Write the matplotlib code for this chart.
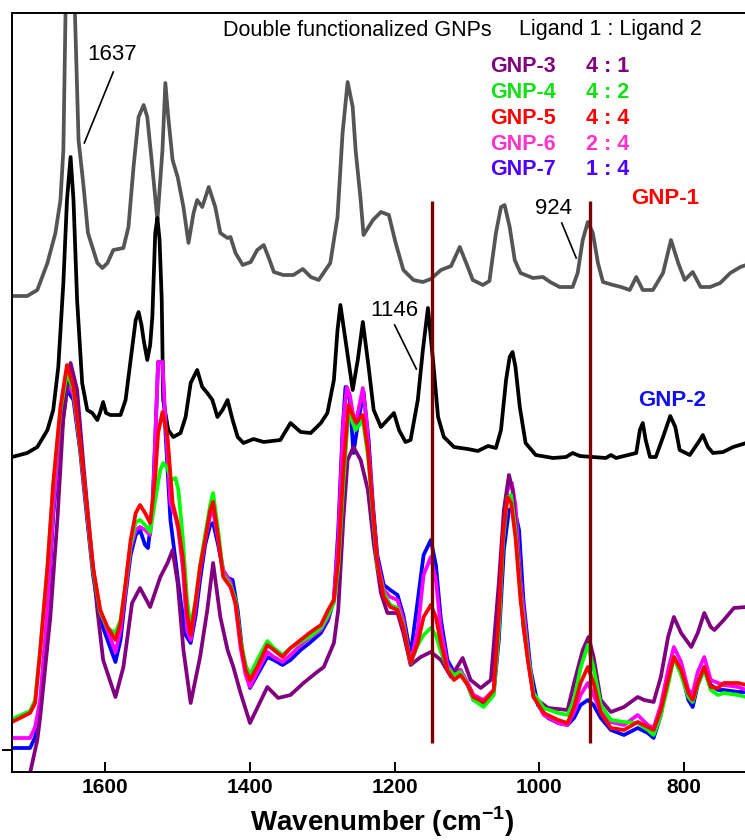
"""
plot.py
FTIR spectra of the GNP series (GNP-1 ... GNP-7), offset stack.
"""
import matplotlib
matplotlib.use("Agg")
import matplotlib.pyplot as plt

plt.rcParams["font.family"] = ["Liberation Sans", "DejaVu Sans"]
plt.rcParams["mathtext.fontset"] = "custom"
plt.rcParams["mathtext.rm"] = "Liberation Sans"
plt.rcParams["mathtext.bf"] = "Liberation Sans:bold"

# ---- data (wavenumber in cm-1, intensity in arbitrary offset units) ----
gnp1_wn = [1729, 1708, 1694, 1680, 1669, 1662, 1658, 1655, 1648, 1642, 1637, 1630, 1624,
           1611, 1604, 1597, 1589, 1575, 1568, 1561, 1554, 1547, 1542, 1535, 1528, 1521,
           1517, 1513, 1507, 1500, 1492, 1485, 1478, 1473, 1466, 1457, 1448, 1441, 1431,
           1427, 1420, 1410, 1399, 1390, 1381, 1374, 1367, 1354, 1340, 1327, 1316, 1305,
           1289, 1279, 1272, 1265, 1258, 1254, 1247, 1243, 1230, 1219, 1208, 1199, 1188,
           1174, 1161, 1150, 1136, 1122, 1110, 1100, 1092, 1078, 1069, 1060, 1053, 1048,
           1041, 1034, 1026, 1009, 995, 985, 972, 954, 947, 940, 933, 926, 919, 912, 898,
           887, 875, 866, 857, 843, 829, 818, 808, 799, 788, 777, 764, 750, 736, 722, 714]
gnp1_int = [476, 476, 482, 509, 539, 572, 622, 759, 812, 759, 632, 585, 539,
            509, 504, 509, 522, 524, 545, 605, 655, 667, 655, 605, 552, 622,
            689, 655, 612, 595, 565, 529, 559, 572, 565, 585, 565, 539, 534,
            535, 519, 507, 510, 522, 527, 514, 500, 497, 497, 503, 495, 492,
            509, 555, 639, 690, 665, 622, 572, 537, 552, 560, 557, 530, 502,
            492, 490, 493, 502, 506, 525, 507, 492, 487, 491, 539, 565, 567,
            545, 512, 499, 494, 495, 490, 485, 485, 499, 532, 550, 539, 509, 490, 487,
            485, 482, 495, 482, 482, 499, 532, 509, 492, 500, 485, 485, 489, 499, 505, 507]

gnp2_wn = [1729, 1708, 1694, 1680, 1672, 1665, 1658, 1653, 1648, 1644, 1639, 1632, 1625,
           1618, 1611, 1607, 1603, 1599, 1593, 1579, 1572, 1565, 1558, 1554, 1550, 1547,
           1542, 1538, 1535, 1531, 1528, 1525, 1522, 1520, 1513, 1506, 1496, 1489, 1482,
           1473, 1466, 1459, 1452, 1445, 1438, 1431, 1424, 1417, 1409, 1395, 1381, 1358,
           1344, 1330, 1316, 1302, 1293, 1284, 1279, 1275, 1268, 1258, 1251, 1244, 1236,
           1229, 1219, 1210, 1201, 1194, 1185, 1178, 1168, 1161, 1154, 1147, 1140, 1132,
           1118, 1099, 1085, 1071, 1060, 1053, 1046, 1041, 1037, 1033, 1027, 1019, 1005,
           981, 963, 954, 944, 926, 908, 901, 894, 866, 861, 857, 853, 847, 839, 829, 819,
           812, 806, 792, 778, 774, 767, 760, 746, 732, 714]
gnp2_int = [315, 319, 325, 342, 362, 405, 489, 572, 615, 572, 472, 389, 362,
            359, 352, 360, 370, 359, 357, 357, 372, 412, 452, 460, 447, 432,
            412, 427, 455, 539, 554, 532, 472, 372, 342, 335, 339, 355, 389,
            402, 385, 379, 372, 355, 362, 372, 352, 335, 329, 333, 330, 332,
            349, 340, 339, 349, 359, 392, 442, 467, 432, 382, 412, 450, 405,
            362, 345, 352, 359, 342, 330, 332, 372, 422, 464, 412, 355, 335,
            325, 323, 321, 326, 324, 342, 392, 415, 420, 405, 365, 329, 317,
            314, 315, 319, 316, 315, 314, 317, 314, 319, 342, 349, 332, 315, 315, 335, 356,
            345, 322, 317, 332, 337, 325, 319, 320, 325, 329]

gnp3_wn = [1711, 1704, 1694, 1690, 1676, 1666, 1658, 1648, 1639, 1630, 1621, 1611, 1603,
           1586, 1575, 1563, 1552, 1538, 1524, 1514, 1507, 1500, 1492, 1482, 1469, 1459,
           1451, 1441, 1431, 1423, 1413, 1400, 1390, 1376, 1361, 1344, 1326, 1309, 1298,
           1284, 1278, 1271, 1265, 1257, 1247, 1237, 1229, 1219, 1210, 1196, 1188, 1178,
           1164, 1150, 1136, 1122, 1106, 1095, 1081, 1067, 1056, 1049, 1042, 1037, 1030,
           1022, 1008, 988, 961, 952, 940, 932, 925, 915, 901, 883, 864, 855, 842, 832,
           822, 814, 804, 790, 781, 772, 763, 758, 745, 731, 714]
gnp3_int = [-28, -1, 32, 55, 155, 255, 355, 409, 382, 305, 235, 162, 112,
            75, 105, 169, 184, 165, 195, 209, 222, 189, 122, 69, 115, 162,
            209, 155, 122, 105, 79, 49, 64, 85, 74, 77, 89, 99, 105,
            129, 162, 252, 312, 325, 312, 282, 229, 179, 159, 159, 139, 107,
            115, 120, 112, 95, 114, 92, 84, 92, 189, 262, 297, 282, 222,
            145, 75, 64, 62, 89, 122, 135, 115, 72, 60, 65, 75, 72, 70, 95,
            135, 155, 139, 125, 139, 159, 145, 142, 152, 164, 165]

gnp4_wn = [1729, 1704, 1697, 1690, 1680, 1672, 1662, 1653, 1644, 1635, 1625, 1617, 1607,
           1597, 1586, 1579, 1572, 1565, 1558, 1552, 1545, 1538, 1531, 1524, 1520, 1514,
           1509, 1503, 1499, 1493, 1487, 1482, 1475, 1469, 1462, 1455, 1451, 1444, 1437,
           1427, 1420, 1413, 1406, 1400, 1390, 1376, 1367, 1355, 1344, 1330, 1316, 1302,
           1292, 1284, 1278, 1271, 1264, 1254, 1244, 1237, 1230, 1224, 1215, 1206, 1196,
           1188, 1178, 1168, 1160, 1150, 1143, 1136, 1127, 1118, 1109, 1099, 1091, 1077,
           1063, 1056, 1050, 1044, 1039, 1033, 1026, 1016, 1008, 994, 974, 961, 952, 943,
           933, 925, 915, 901, 883, 864, 850, 842, 832, 822, 814, 804, 794, 788, 781, 772,
           763, 753, 745, 725, 714]
gnp4_int = [53, 61, 72, 122, 205, 287, 362, 399, 382, 327, 260, 202, 160,
            144, 139, 152, 187, 227, 250, 252, 247, 240, 272, 302, 309, 304,
            292, 294, 282, 235, 172, 145, 172, 207, 237, 267, 279, 242, 197,
            187, 172, 132, 107, 97, 112, 131, 124, 117, 124, 130, 136, 144,
            157, 169, 204, 287, 360, 342, 352, 317, 257, 207, 179, 167, 164,
            147, 109, 127, 137, 144, 137, 120, 104, 97, 100, 87, 72, 65,
            77, 142, 232, 275, 277, 242, 177, 117, 79, 64, 59, 57, 72, 104,
            127, 104, 67, 52, 50, 49, 42, 37, 57, 87, 114, 97, 75, 70, 87, 102,
            82, 77, 79, 77, 75]

gnp5_wn = [1729, 1704, 1697, 1690, 1680, 1672, 1662, 1653, 1644, 1635, 1625, 1617, 1607,
           1597, 1586, 1579, 1572, 1565, 1558, 1552, 1545, 1538, 1531, 1527, 1521, 1514,
           1507, 1500, 1493, 1487, 1482, 1475, 1469, 1462, 1455, 1451, 1444, 1437, 1427,
           1420, 1413, 1406, 1400, 1390, 1376, 1367, 1355, 1344, 1330, 1316, 1302, 1292,
           1284, 1278, 1271, 1264, 1254, 1244, 1237, 1230, 1224, 1215, 1206, 1196, 1188,
           1178, 1168, 1160, 1150, 1143, 1136, 1127, 1118, 1109, 1099, 1091, 1077, 1063,
           1056, 1050, 1044, 1039, 1033, 1026, 1016, 1008, 994, 974, 961, 952, 943, 933,
           925, 915, 901, 883, 864, 850, 842, 832, 822, 814, 804, 794, 788, 781, 772, 763,
           753, 745, 725, 714]
gnp5_int = [50, 59, 69, 122, 205, 289, 365, 407, 385, 329, 262, 205, 162,
            145, 132, 149, 189, 232, 259, 267, 259, 249, 295, 339, 360, 335,
            269, 249, 215, 159, 137, 172, 205, 232, 262, 270, 235, 195, 185,
            169, 129, 102, 92, 105, 127, 122, 115, 124, 132, 140, 147, 162,
            172, 212, 302, 367, 350, 357, 322, 262, 209, 175, 165, 162, 145,
            109, 129, 155, 167, 155, 129, 102, 92, 97, 87, 75, 70, 82,
            155, 239, 275, 269, 235, 172, 112, 75, 59, 52, 49, 65, 89, 105,
            89, 59, 44, 42, 50, 45, 42, 62, 92, 115, 102, 79, 72, 89, 105, 85,
            84, 89, 89, 87]

gnp6_wn = [1729, 1704, 1697, 1690, 1680, 1672, 1662, 1653, 1644, 1635, 1625, 1617, 1607,
           1597, 1586, 1579, 1572, 1565, 1558, 1552, 1545, 1538, 1534, 1530, 1527, 1521,
           1517, 1510, 1503, 1499, 1493, 1487, 1482, 1475, 1469, 1462, 1455, 1451, 1444,
           1437, 1427, 1420, 1413, 1406, 1400, 1390, 1376, 1367, 1355, 1344, 1330, 1316,
           1302, 1292, 1284, 1278, 1271, 1266, 1262, 1255, 1250, 1244, 1239, 1230, 1224,
           1215, 1206, 1196, 1188, 1178, 1168, 1160, 1150, 1143, 1136, 1127, 1118, 1109,
           1099, 1091, 1077, 1063, 1056, 1050, 1044, 1038, 1033, 1026, 1016, 1008, 994,
           974, 961, 952, 943, 933, 925, 915, 901, 883, 864, 850, 842, 832, 822, 814, 804,
           794, 788, 781, 772, 763, 753, 745, 725, 714]
gnp6_int = [34, 34, 45, 72, 162, 262, 342, 390, 377, 327, 257, 202, 160,
            142, 120, 142, 182, 224, 242, 245, 242, 237, 272, 352, 410, 410,
            352, 269, 255, 242, 205, 142, 132, 167, 202, 232, 257, 262, 232,
            202, 190, 167, 124, 97, 85, 100, 120, 115, 110, 117, 127, 135,
            142, 155, 172, 232, 352, 385, 377, 347, 362, 384, 352, 262, 212,
            182, 175, 172, 152, 109, 142, 197, 215, 192, 142, 107, 97, 102,
            89, 77, 72, 82, 152, 242, 282, 289, 267, 192, 122, 77, 57,
            49, 47, 60, 77, 89, 77, 60, 50, 47, 57, 47, 44, 67, 102, 125, 110,
            82, 79, 100, 115, 92, 89, 87, 85, 82]

gnp7_wn = [1729, 1704, 1697, 1690, 1680, 1672, 1662, 1653, 1644, 1635, 1625, 1617, 1607,
           1597, 1586, 1579, 1572, 1565, 1558, 1552, 1545, 1541, 1535, 1530, 1527, 1521,
           1517, 1510, 1503, 1496, 1489, 1482, 1475, 1469, 1462, 1455, 1451, 1444, 1437,
           1430, 1424, 1417, 1410, 1400, 1390, 1376, 1367, 1355, 1344, 1330, 1316, 1302,
           1292, 1284, 1278, 1272, 1268, 1262, 1257, 1250, 1243, 1236, 1230, 1224, 1215,
           1206, 1196, 1188, 1178, 1168, 1160, 1150, 1143, 1136, 1127, 1118, 1109, 1099,
           1091, 1077, 1063, 1056, 1049, 1042, 1035, 1028, 1022, 1012, 1002, 988, 974, 961,
           952, 943, 933, 925, 915, 901, 883, 864, 850, 842, 832, 822, 814, 804, 794, 788,
           781, 772, 763, 753, 745, 725, 714]
gnp7_int = [24, 24, 35, 67, 157, 257, 332, 382, 372, 322, 252, 197, 152,
            132, 110, 132, 177, 217, 237, 242, 227, 224, 262, 352, 410, 410,
            342, 252, 212, 172, 137, 129, 157, 192, 227, 247, 249, 227, 200,
            194, 192, 162, 117, 84, 97, 115, 112, 107, 112, 122, 130, 139,
            152, 172, 242, 342, 385, 372, 319, 352, 380, 332, 267, 217, 187,
            182, 177, 157, 117, 172, 217, 232, 207, 152, 112, 100, 102, 87,
            72, 67, 80, 132, 222, 262, 265, 242, 172, 102, 67, 54, 49, 47,
            54, 67, 72, 67, 54, 42, 37, 44, 39, 34, 57, 97, 115, 102, 72, 65,
            87, 105, 87, 82, 82, 80, 80]

marker_lines = [1149, 930]
legend_names = ["GNP-3", "GNP-4", "GNP-5", "GNP-6", "GNP-7"]
legend_ratios = ["4 : 1", "4 : 2", "4 : 4", "2 : 4", "1 : 4"]
legend_colors = ["#800080", "#11e011", "#ff0000", "#ff33cc", "#5000ff"]
xticks = [1600, 1400, 1200, 1000, 800]

W, H = 745, 840
fig = plt.figure(figsize=(W / 100, H / 100), dpi=100)
ax = fig.add_axes([12 / W, 68 / H, 740 / W, 759 / H])

lw = 2.7
kw = dict(lw=lw, solid_joinstyle="round", solid_capstyle="round")
ax.plot(gnp1_wn, gnp1_int, color="#555555", **kw)
ax.plot(gnp2_wn, gnp2_int, color="black", **kw)
ax.plot(gnp7_wn, gnp7_int, color="#0000ff", **kw)
ax.plot(gnp6_wn, gnp6_int, color="#ff00ff", **kw)
ax.plot(gnp3_wn, gnp3_int, color="#800080", **kw)
ax.plot(gnp4_wn, gnp4_int, color="#00ff00", **kw)
ax.plot(gnp5_wn, gnp5_int, color="#ff0000", **kw)

for wn in marker_lines:
    ax.plot([wn, wn], [29, 571], color="#7a0000", lw=2.4, solid_capstyle="butt")

ax.set_xlim(1729, 706)
ax.set_ylim(0, 759)

# peak annotations
for txt, (tx, ty), (x0, y0), (x1, y1) in [
    ("1637", (1590, 717), (1589, 700), (1629, 629)),
    ("1146", (1200, 462), (1200, 447), (1170, 403)),
    ("924", (980, 564), (969, 549), (949, 514)),
]:
    ax.text(tx, ty, txt, fontsize=16, ha="center", va="center")
    ax.plot([x0, x1], [y0, y1], color="black", lw=1.2)

# header / legend block (figure pixel positions)
def ftext(px, py, s, **k):
    fig.text(px / W, 1 - py / H, s, va="center", ha="left", **k)

ftext(223, 30, "Double functionalized GNPs", fontsize=15.5)
ftext(519, 30, "Ligand 1 : Ligand 2", fontsize=15.5)
for i, (n, r, c) in enumerate(zip(legend_names, legend_ratios, legend_colors)):
    yy = 67 + i * 25.7
    ftext(490, yy, n, fontsize=15.5, fontweight="bold", color=c)
    ftext(586, yy, r, fontsize=15.5, fontweight="bold", color=c)
ftext(631, 198, "GNP-1", fontsize=16, fontweight="bold", color="#ff0000")
ftext(638, 400, "GNP-2", fontsize=16, fontweight="bold", color="#1010f0")

ax.set_xticks(xticks)
ax.set_xticklabels([str(t) for t in xticks], fontsize=15, fontweight="bold")
ax.tick_params(axis="x", direction="in", length=7, width=1.4, pad=4)
ax.set_yticks([22])
ax.set_yticklabels([""])
ax.tick_params(axis="y", direction="out", length=7, width=1.4)
ax.set_xlabel(r"Wavenumber (cm$^{\mathbf{-1}}$)", fontsize=20, fontweight="bold", labelpad=6)

for s in ["left", "top", "bottom"]:
    ax.spines[s].set_linewidth(1.4)
ax.spines["right"].set_visible(False)

fig.savefig("out.png", dpi=100)
